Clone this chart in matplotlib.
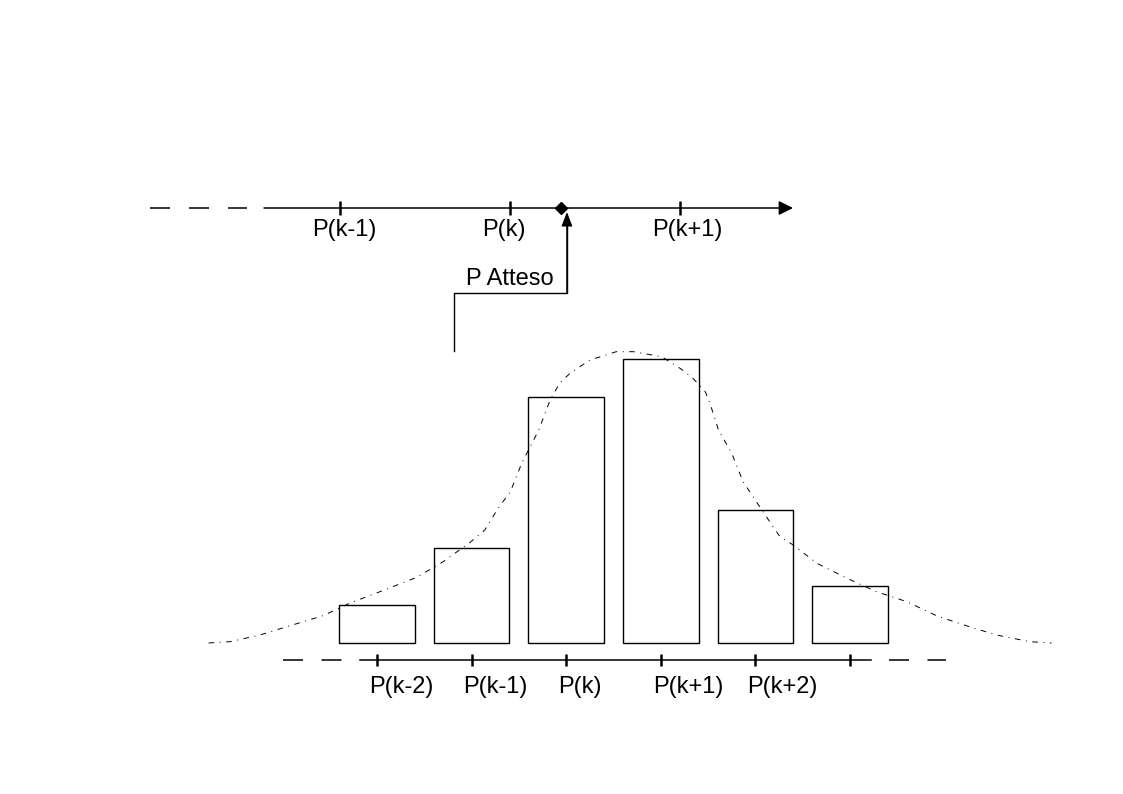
import matplotlib
matplotlib.use("Agg")
import matplotlib.pyplot as plt

plt.rcParams["font.family"] = ["Liberation Sans", "DejaVu Sans"]
plt.rcParams["lines.scale_dashes"] = False

# bottom distribution: one bar per price level
bar_labels = ["P(k-2)", "P(k-1)", "P(k)", "P(k+1)", "P(k+2)", ""]
bar_counts = [4, 10, 26, 30, 14, 6]

# smooth fitted curve (dash-dot)
curve_x = [-1.78, -1.55, -1.24, -0.92, -0.57, -0.29, 0.06, 0.42, 0.70, 0.98,
           1.14, 1.28, 1.41, 1.53, 1.62, 1.71, 1.83, 1.93, 2.04, 2.25, 2.53,
           2.71, 3.01, 3.22, 3.34, 3.47, 3.52, 3.61, 3.75, 3.87, 4.01, 4.14,
           4.26, 4.40, 4.65, 4.97, 5.28, 5.60, 5.92, 6.23, 6.55, 6.90, 7.13]
curve_y = [0.0, 0.14, 0.84, 1.82, 2.88, 4.19, 5.52, 6.93, 8.58, 10.58,
           11.92, 14.21, 15.96, 18.96, 20.71, 22.47, 25.63, 27.39, 28.45, 29.85, 30.73,
           30.73, 30.20, 28.87, 27.92, 26.51, 25.28, 22.47, 20.01, 17.02, 14.91, 12.97,
           11.21, 10.34, 8.41, 6.82, 5.41, 4.36, 2.85, 1.82, 0.84, 0.14, 0.0]

# top price axis
top_positions = [-1, 0, 1]
top_labels = ["P(k-1)", "P(k)", "P(k+1)"]
p_atteso = 0.30

fig = plt.figure(figsize=(11.23, 7.94), dpi=100)

bot = fig.add_axes([0, 0, 1, 1])
bot.set_xlim(-3.985, 7.886)
bot.set_ylim(-15.93, 67.83)
bot.axis("off")

top = fig.add_axes([0, 0, 1, 1])
top.set_xlim(-3.0, 3.606)
top.set_ylim(-61.81, 21.94)
top.axis("off")
top.patch.set_visible(False)

# --- bottom part ---
bot.bar(range(len(bar_counts)), bar_counts, width=0.8, fill=False,
        edgecolor="black", linewidth=1.0)
bot.plot(curve_x, curve_y, color="black", lw=0.7, linestyle=(0, (4, 4, 0.7, 4)))

y0 = -1.79
bot.plot([-0.18, 5.22], [y0, y0], color="black", lw=1.1)
bot.plot([-0.99, -0.36], [y0, y0], color="black", lw=1.1, linestyle=(0, (14.4, 13.3)))
bot.plot([5.41, 6.01], [y0, y0], color="black", lw=1.1, linestyle=(0, (14.4, 13.3)))
bot.vlines(range(len(bar_labels)), y0 - 0.63, y0 + 0.63, color="black", lw=1.8)
for i, lab in enumerate(bar_labels):
    bot.text(i - 0.085, -5.27, lab, fontsize=17, ha="left", va="baseline")

# --- top part ---
top.annotate("", xy=(1.665, 0), xytext=(-1.447, 0),
             arrowprops=dict(arrowstyle="-|>,head_length=0.86,head_width=0.43",
                             mutation_scale=10, lw=1.1, color="black",
                             shrinkA=0, shrinkB=0))
top.plot([-2.118, -1.547], [0, 0], color="black", lw=1.1, linestyle=(0, (14.4, 13.7)))
top.vlines(top_positions, -0.74, 0.74, color="black", lw=1.8)
for pos, lab in zip(top_positions, top_labels):
    top.text(pos - 0.165, -2.95, lab, fontsize=17, ha="left", va="baseline")

top.plot([p_atteso], [0], marker="D", ms=6, color="black")

# P Atteso pointer
top.plot([-0.329, -0.329, 0.335, 0.335], [-15.08, -8.97, -8.97, -1.5], color="black", lw=1.0)
top.annotate("", xy=(0.335, -0.42), xytext=(0.335, -8.97),
             arrowprops=dict(arrowstyle="-|>,head_length=0.86,head_width=0.33",
                             mutation_scale=10, lw=1.0, color="black",
                             shrinkA=0, shrinkB=0))
top.text(-0.259, -8.12, "P Atteso", fontsize=17, ha="left", va="baseline")

fig.savefig("out.png", dpi=100)
